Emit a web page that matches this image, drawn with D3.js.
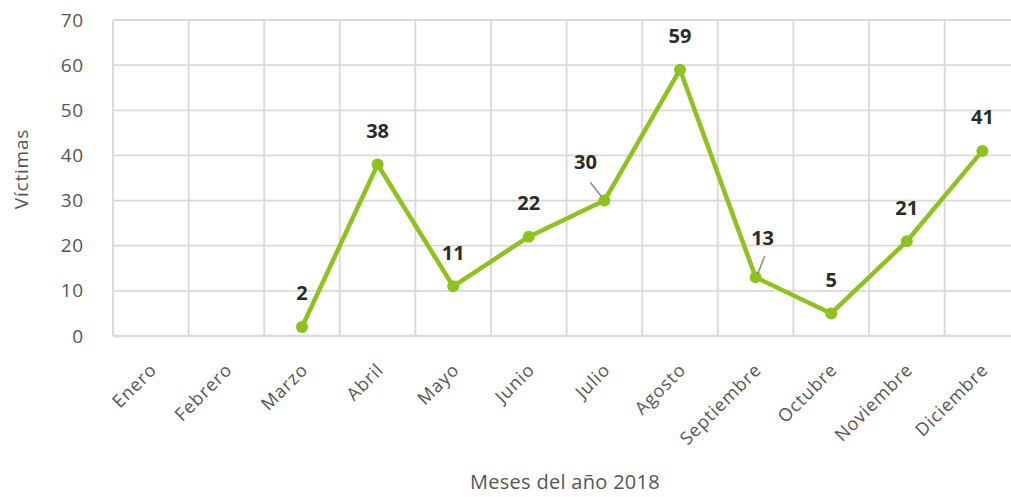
<!DOCTYPE html>
<html>
<head>
<meta charset="utf-8">
<script src="https://cdn.jsdelivr.net/npm/d3@7/dist/d3.min.js"></script>
<style>
  html, body { margin: 0; padding: 0; background: #fff; }
  svg { display: block; }
  text { font-family: "Open Sans", "Lato", sans-serif; }
</style>
</head>
<body>
<svg id="chart" width="1011" height="497"></svg>
<script>
const months = ["Enero","Febrero","Marzo","Abril","Mayo","Junio","Julio","Agosto","Septiembre","Octubre","Noviembre","Diciembre"];
const victims = [null, null, 2, 38, 11, 22, 30, 59, 13, 5, 21, 41];
const yTicks = [0, 10, 20, 30, 40, 50, 60, 70];
const yTitle = "Víctimas";
const xTitle = "Meses del año 2018";

(function () {
const W = 1011, H = 497;
const mLeft = 113, bandW = 75.6, mTop = 20, mBottom = 336;
const svg = d3.select("#chart");

const x = d3.scaleBand().domain(months).range([mLeft, mLeft + bandW * months.length]).padding(0);
const y = d3.scaleLinear().domain([0, 70]).range([mBottom, mTop]);
const grid = "#d9d9d9";

// horizontal grid
svg.append("g").selectAll("line").data(yTicks).join("line")
  .attr("x1", mLeft).attr("x2", W + 20)
  .attr("y1", d => y(d)).attr("y2", d => y(d))
  .attr("stroke", grid).attr("stroke-width", d => d === 0 ? 2.5 : 1.8);

// vertical grid at band edges
const edges = months.map(m => x(m)).concat([x.range()[1]]);
svg.append("g").selectAll("line").data(edges).join("line")
  .attr("x1", d => d).attr("x2", d => d)
  .attr("y1", y(70)).attr("y2", y(0))
  .attr("stroke", grid).attr("stroke-width", 1.8);

// y axis labels
const yAxis = d3.axisLeft(y).tickValues(yTicks).tickSize(0).tickPadding(0);
const gy = svg.append("g").attr("transform", `translate(${mLeft - 29},0)`).call(yAxis);
gy.select(".domain").remove();
gy.selectAll("text").attr("fill", "#555").style("font-size", "19px").style("letter-spacing", "0.8px")
  .style("font-family", "'Open Sans', sans-serif");

// x axis labels
const xAxis = d3.axisBottom(x).tickSize(0).tickPadding(0);
const gx = svg.append("g").attr("transform", `translate(0,${mBottom})`).call(xAxis);
gx.select(".domain").remove();
gx.selectAll("text")
  .attr("fill", "#555").style("font-size", "18px").style("letter-spacing", "0.9px")
  .style("font-family", "'Open Sans', sans-serif")
  .attr("text-anchor", "end")
  .attr("dy", null).attr("y", null)
  .attr("transform", "translate(7,35) rotate(-45)");

// titles
svg.append("text").attr("transform", `translate(28,169) rotate(-90)`)
  .attr("text-anchor", "middle").attr("fill", "#555").style("font-size", "19px")
  .style("letter-spacing", "0.8px").text(yTitle);
svg.append("text").attr("x", 565).attr("y", 489)
  .attr("text-anchor", "middle").attr("fill", "#555").style("font-size", "20px")
  .style("letter-spacing", "0.3px").text(xTitle);

// line
const pts = months.map((m, i) => ({ m, v: victims[i] })).filter(d => d.v !== null);
const cx = d => x(d.m) + x.bandwidth() / 2;
const green = "#8dc21f";
svg.append("path").datum(pts)
  .attr("d", d3.line().x(cx).y(d => y(d.v)))
  .attr("fill", "none").attr("stroke", green).attr("stroke-width", 4.5).attr("stroke-linejoin", "round");
svg.append("g").selectAll("circle").data(pts).join("circle")
  .attr("cx", cx).attr("cy", d => y(d.v)).attr("r", 6).attr("fill", green);

// labels (some offset with leader lines)
const special = { "Julio": { dx: -19, dy: -39, lead: [-14, -18, -3, -4] }, "Septiembre": { dx: 7, dy: -40, lead: [9, -21, 2, -3] } };
const lg = svg.append("g");
pts.forEach(d => {
  const s = special[d.m];
  const px = cx(d), py = y(d.v);
  if (s) {
    lg.append("line").attr("x1", px + s.lead[0]).attr("y1", py + s.lead[1])
      .attr("x2", px + s.lead[2]).attr("y2", py + s.lead[3])
      .attr("stroke", "#8a8a8a").attr("stroke-width", 1.5);
  }
  lg.append("text").attr("x", px + (s ? s.dx : 0)).attr("y", py + (s ? s.dy : -34))
    .attr("text-anchor", "middle").attr("dominant-baseline", "central")
    .attr("fill", "#2b2b2b").style("font-size", "20px").style("font-weight", "700").text(d.v);
});
})();
</script>
</body>
</html>
